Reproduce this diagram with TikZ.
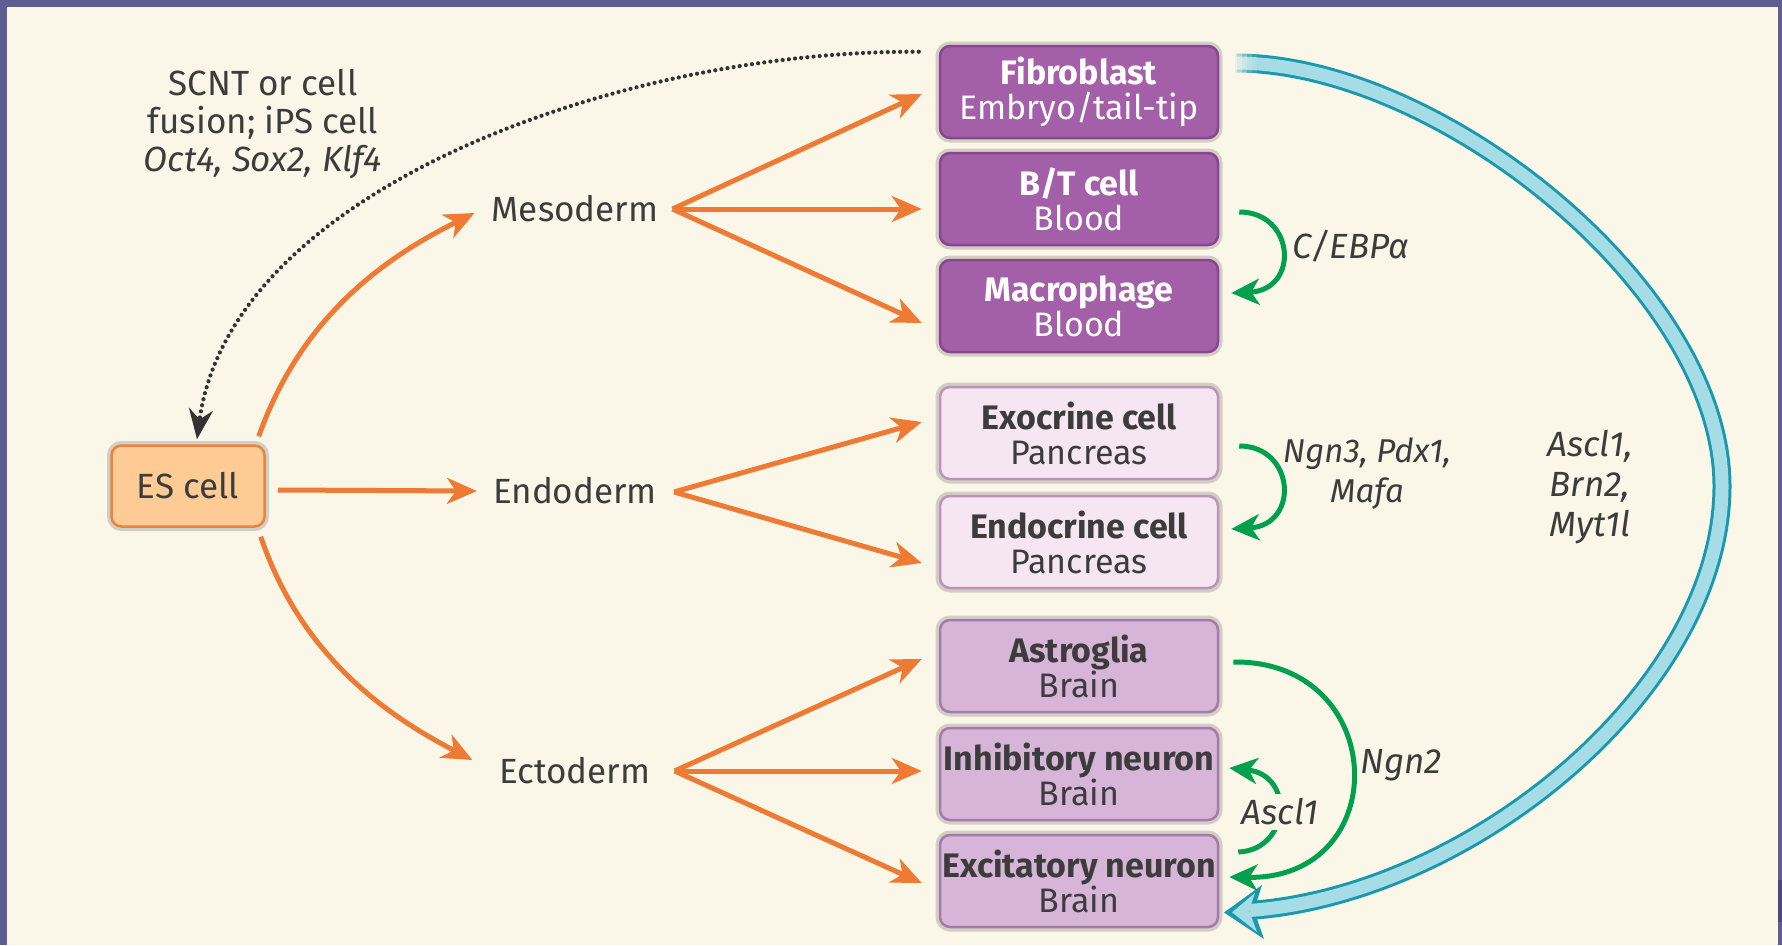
\documentclass[tikz,border=0pt]{standalone}
\usepackage{fontspec}
\setmainfont{Fira Sans}
\usetikzlibrary{arrows.meta,calc}
\definecolor{bg}{HTML}{FAF7E9}
\definecolor{framec}{HTML}{5E5E92}
\definecolor{framed}{HTML}{4A4A78}
\definecolor{txtc}{HTML}{3C3C3C}
\definecolor{pdark}{HTML}{A35FA8}
\definecolor{pdarkb}{HTML}{884690}
\definecolor{plight}{HTML}{F6E6F1}
\definecolor{plightb}{HTML}{BE92BE}
\definecolor{pmid}{HTML}{D7B5D9}
\definecolor{pmidb}{HTML}{A679AC}
\definecolor{esfill}{HTML}{FECB95}
\definecolor{esdraw}{HTML}{E9843F}
\definecolor{orangec}{HTML}{EE7A33}
\definecolor{greenc}{HTML}{00A04E}
\definecolor{tealc}{HTML}{1A98AE}
\definecolor{lblue}{HTML}{A5DCE6}
\definecolor{dotc}{HTML}{333333}
\tikzset{
  txt/.style={font=\fontsize{35}{38}\selectfont, text=txtc, inner sep=2pt},
  lbl/.style={font=\fontsize{35}{40}\selectfont\itshape, text=txtc, inner sep=2pt, align=center},
  cellbox/.style={rounded corners=10pt, minimum width=278pt, minimum height=92pt,
    line width=2.5pt, align=center, font=\fontsize{34}{35}\selectfont, inner sep=0pt,
    preaction={draw=black, opacity=0.16, line width=9pt}},
  darkbox/.style={cellbox, fill=pdark, draw=pdarkb, text=white},
  lightbox/.style={cellbox, fill=plight, draw=plightb, text=txtc},
  midbox/.style={cellbox, fill=pmid, draw=pmidb, text=txtc},
  esbox/.style={rounded corners=10pt, minimum width=153pt, minimum height=81pt,
    line width=2.5pt, fill=esfill, draw=esdraw, text=txtc, font=\fontsize{35}{38}\selectfont,
    preaction={draw=black, opacity=0.16, line width=9pt}},
  oarrow/.style={draw=orangec, line width=5pt, -{Stealth[length=30pt,width=26pt,inset=9pt]}},
  garrow/.style={draw=greenc, line width=5pt, -{Stealth[length=28pt,width=26pt,inset=8pt]}},
  dotarrow/.style={draw=dotc, line width=4.2pt, line cap=round, dash pattern=on 0pt off 6.2pt,
    -{Stealth[length=30pt,width=24pt,inset=10pt]}},
}
\begin{document}
\begin{tikzpicture}[x=1pt,y=-1pt]
\useasboundingbox (0,0) rectangle (1782,945);
\fill[bg] (0,0) rectangle (1782,945);
\fill[framec] (0,0) rectangle (7,945);
\fill[framec] (0,0) rectangle (1782,7);
\fill[framec] (1778,0) rectangle (1782,945);
\fill[framed] (1778,880) rectangle (1782,922);

% cell boxes
\node[darkbox]  (fib)   at (1079,92)  {\textbf{Fibroblast}\\Embryo/tail-tip};
\node[darkbox]  (bt)    at (1079,199) {\textbf{B/T cell}\\Blood};
\node[darkbox]  (mac)   at (1079,306) {\textbf{Macrophage}\\Blood};
\node[lightbox] (exo)   at (1079,433) {\textbf{Exocrine cell}\\Pancreas};
\node[lightbox] (endo)  at (1079,542) {\textbf{Endocrine cell}\\Pancreas};
\node[midbox]   (astro) at (1079,666) {\textbf{Astroglia}\\Brain};
\node[midbox]   (inh)   at (1079,774) {\textbf{Inhibitory neuron}\\Brain};
\node[midbox]   (exc)   at (1079,881) {\textbf{Excitatory neuron}\\Brain};

\node[esbox] (es) at (188,486) {ES cell};

\node[txt] (meso) at (575,209) {Mesoderm};
\node[txt] (endoderm) at (575,491) {Endoderm};
\node[txt] (ecto) at (575,771) {Ectoderm};

\node[txt, align=center] (scnt) at (263,124) {SCNT or cell\\fusion; iPS cell\\\textit{Oct4, Sox2, Klf4}};

% apex coordinates of the fans
\coordinate (mA) at ($(meso.east)+(12,0)$);
\coordinate (nA) at ($(endoderm.east)+(15,1)$);
\coordinate (cA) at ($(ecto.east)+(22,0)$);

% ES arrows
\draw[oarrow] ($(es.east)+(12,4)$) -- ($(endoderm.west)+(-14,0)$);
\draw[oarrow] ($(es.north east)+(-7,-8)$) .. controls (300,320) and (380,260) .. ($(meso.west)+(-15,4)$);
\draw[oarrow] ($(es.south east)+(-5,9)$) .. controls (300,652) and (380,712) .. ($(ecto.west)+(-25,-11)$);

% fans
\draw[oarrow] (mA) -- ($(fib.west)+(-17,2)$);
\draw[oarrow] (mA) -- ($(bt.west)+(-17,10)$);
\draw[oarrow] (mA) -- ($(mac.west)+(-17,17)$);
\draw[oarrow] (nA) -- ($(exo.west)+(-17,-11)$);
\draw[oarrow] (nA) -- ($(endo.west)+(-17,21)$);
\draw[oarrow] (cA) -- ($(astro.west)+(-17,-7)$);
\draw[oarrow] (cA) -- ($(inh.west)+(-17,-3)$);
\draw[oarrow] (cA) -- ($(exc.west)+(-17,2)$);

% dotted reprogramming arrow
\draw[dotarrow] ($(fib.north west)+(-20,7)$) .. controls (620,50) and (230,190) .. ($(es.north)+(9,-5)$);

% blue arrow fibroblast -> excitatory neuron
\coordinate (bs) at ($(fib.east)+(16,-29)$);
\coordinate (be) at ($(exc.east)+(30,29.5)$);
\draw[tealc, line width=19pt] (bs) .. controls (1440,63) and (1722,290) .. (1722,486)
   .. controls (1722,690) and (1470,895) .. (be);
\fill[tealc] (1224,912.5) -- (1262,885) -- (1254,910.5) -- (1264,939) -- cycle;
\draw[lblue, line width=13pt] (bs) .. controls (1440,63) and (1722,290) .. (1722,486)
   .. controls (1722,690) and (1470,895) .. (be);
\fill[lblue] (1232,912.3) -- (1255,893) -- (1249,910.5) -- (1257,932) -- cycle;
\foreach \i/\o in {0/0.85,1/0.65,2/0.45,3/0.25,4/0.1}{
  \fill[bg, opacity=\o] ({1232+5*\i},50) rectangle ({1237+5*\i},78);
}
\node[lbl] (bluelbl) at (1590,487) {Ascl1,\\Brn2,\\Myt1l};

% green arrows
\draw[garrow] ($(bt.east)+(20,13)$) .. controls (1295,212) and (1300,290) .. ($(mac.east)+(12,-13)$);
\node[lbl, anchor=west] (cebp) at (1290,246) {C/EBPα};

\draw[garrow] ($(exo.east)+(20,13)$) .. controls (1295,446) and (1300,525) .. ($(endo.east)+(12,-13)$);
\node[lbl, font=\fontsize{33}{40}\selectfont\itshape] (ngn3) at (1367,474) {Ngn3, Pdx1,\\Mafa};

\draw[garrow] ($(astro.east)+(14,-4)$) .. controls (1390,660) and (1395,880) .. ($(exc.east)+(10,-4)$);
\node[lbl] (ngn2) at (1401,765) {Ngn2};

\draw[garrow] ($(exc.east)+(19,-29)$) .. controls (1290,850) and (1295,775) .. ($(inh.east)+(10,-6)$);
\node[lbl, fill=bg, inner sep=5pt] (ascl) at (1280,812) {Ascl1};
\end{tikzpicture}
\end{document}
